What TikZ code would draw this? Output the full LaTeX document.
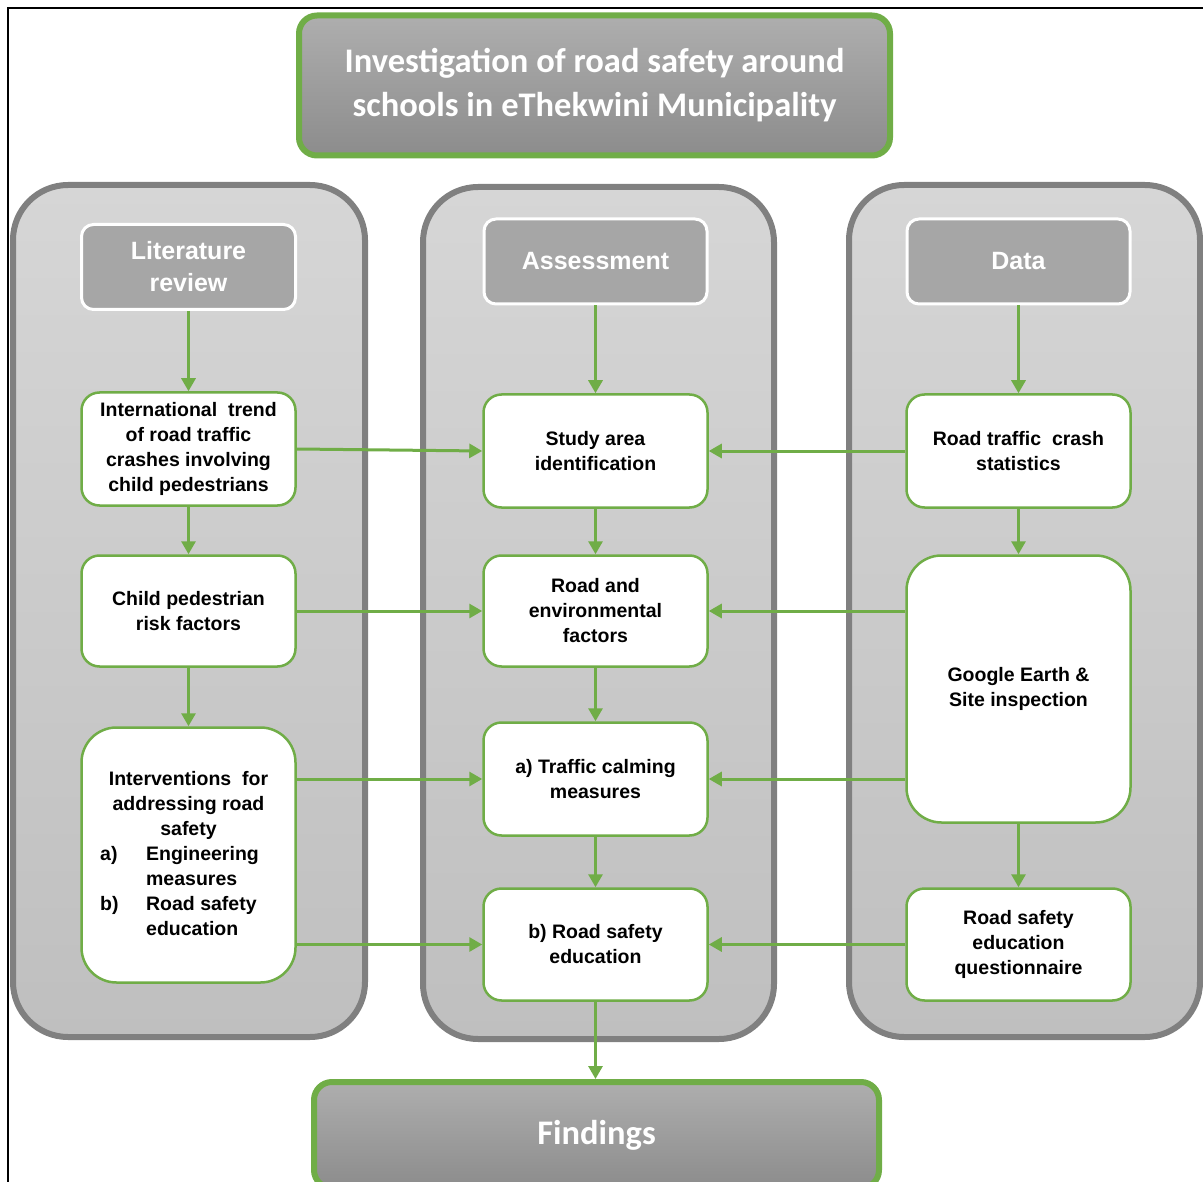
\documentclass[tikz,border=0pt]{standalone}
\usepackage{fontspec}
\setmainfont{Liberation Sans}
\newfontfamily\calibrifont{Carlito}
\usetikzlibrary{arrows.meta}
\definecolor{leafgreen}{RGB}{112,173,71}
\definecolor{panelrim}{RGB}{128,128,128}
\definecolor{headgray}{RGB}{166,166,166}
\begin{document}
\begin{tikzpicture}[x=1pt,y=1pt,yscale=-1,
	panel/.style={draw=panelrim, line width=6pt, rounded corners=55pt, top color={rgb,255:red,214;green,214;blue,214}, bottom color={rgb,255:red,191;green,191;blue,191}},
	banner/.style={draw=leafgreen, line width=6pt, rounded corners=18pt, top color={rgb,255:red,174;green,174;blue,174}, bottom color={rgb,255:red,140;green,140;blue,140}, text=white, font=\calibrifont\bfseries\fontsize{34.5}{44}\selectfont, align=center, inner sep=0pt},
	headbox/.style={draw=white, line width=3pt, fill=headgray, rounded corners=12pt, text=white, font=\bfseries\fontsize{25}{32}\selectfont, align=center, inner sep=0pt, minimum width=223pt, minimum height=85pt},
	stepbox/.style={draw=leafgreen, line width=2.5pt, fill=white, rounded corners=18pt, font=\bfseries\fontsize{19.5}{25}\selectfont, align=center, inner sep=0pt, minimum width=224pt, minimum height=113pt},
	flow/.style={draw=leafgreen, line width=3pt, -{Triangle[length=13pt,width=14pt]}}
]
\useasboundingbox (0,0) rectangle (1203,1182);
% frame
\draw [line width=2pt] (8,1182) -- (8,8) -- (1203,8) ;

%Shape: Rounded Rect (columns)
\draw [panel] (13,185) rectangle (365,1037) ;
\draw [panel] (423,187) rectangle (774,1039) ;
\draw [panel] (849,185) rectangle (1200,1037) ;

% title and end box
\node [banner, minimum width=591pt, minimum height=140pt] (title) at (594.5,85.5) {Investigation of road safety around\\schools in eThekwini Municipality};
\node [banner, minimum width=565pt, minimum height=106pt] (findings) at (596.5,1135) {Findings};

% column heads
\node [headbox, minimum width=214pt] (lithead) at (188.5,267) {Literature\\review};
\node [headbox] (asshead) at (595.5,261.5) {Assessment};
\node [headbox] (datahead) at (1018.5,261.5) {Data};

% literature column
\node [stepbox, minimum width=214pt] (trend) at (188.5,449) {International\ \ trend\\of road traffic\\crashes involving\\child pedestrians};
\node [stepbox, minimum width=214pt, minimum height=111pt] (riskf) at (188.5,611) {Child pedestrian\\risk factors};
\node [stepbox, minimum width=214pt, minimum height=255pt, rounded corners=35pt] (interv) at (188.5,855) {\begin{tabular}{@{}p{46pt}@{}l@{\hspace{18pt}}}
\multicolumn{2}{@{}c@{}}{Interventions\ \ for}\\
\multicolumn{2}{@{}c@{}}{addressing road}\\
\multicolumn{2}{@{}c@{}}{safety}\\
a) & Engineering\\
 & measures\\
b) & Road safety\\
 & education
\end{tabular}};

% assessment column
\node [stepbox] (study) at (595.5,451) {Study area\\identification};
\node [stepbox, minimum height=111pt] (roadenv) at (595.5,611) {Road and\\environmental\\factors};
\node [stepbox] (calming) at (595.5,779) {a) Traffic calming\\measures};
\node [stepbox, minimum height=112pt] (rsedu) at (595.5,944.5) {b) Road safety\\education};

% data column
\node [stepbox] (crash) at (1018.5,451) {Road traffic\ \ crash\\statistics};
\node [stepbox, minimum height=267pt, rounded corners=35pt] (gearth) at (1018.5,689) {Google Earth \&\\Site inspection};
\node [stepbox, minimum height=112pt] (quest) at (1018.5,944.5) {Road safety\\education\\questionnaire};

%Straight Lines (down the columns)
\draw [flow] (lithead) -- (trend) ;
\draw [flow] (trend) -- (riskf) ;
\draw [flow] (riskf) -- (interv) ;
\draw [flow] (asshead) -- (study) ;
\draw [flow] (study) -- (roadenv) ;
\draw [flow] (roadenv) -- (calming) ;
\draw [flow] (calming) -- (rsedu) ;
\draw [flow] (rsedu.south) -- (rsedu.south |- findings.north) ;
\draw [flow] (datahead) -- (crash) ;
\draw [flow] (crash) -- (gearth) ;
\draw [flow] (gearth) -- (quest) ;

%Straight Lines (into assessment)
\draw [flow] (trend.east) -- (study.west) ;
\draw [flow] (riskf.east) -- (roadenv.west) ;
\draw [flow] (interv.east |- calming) -- (calming.west) ;
\draw [flow] (interv.east |- rsedu) -- (rsedu.west) ;
\draw [flow] (crash.west) -- (study.east) ;
\draw [flow] (gearth.west |- roadenv) -- (roadenv.east) ;
\draw [flow] (gearth.west |- calming) -- (calming.east) ;
\draw [flow] (quest.west) -- (rsedu.east) ;
\end{tikzpicture}
\end{document}
